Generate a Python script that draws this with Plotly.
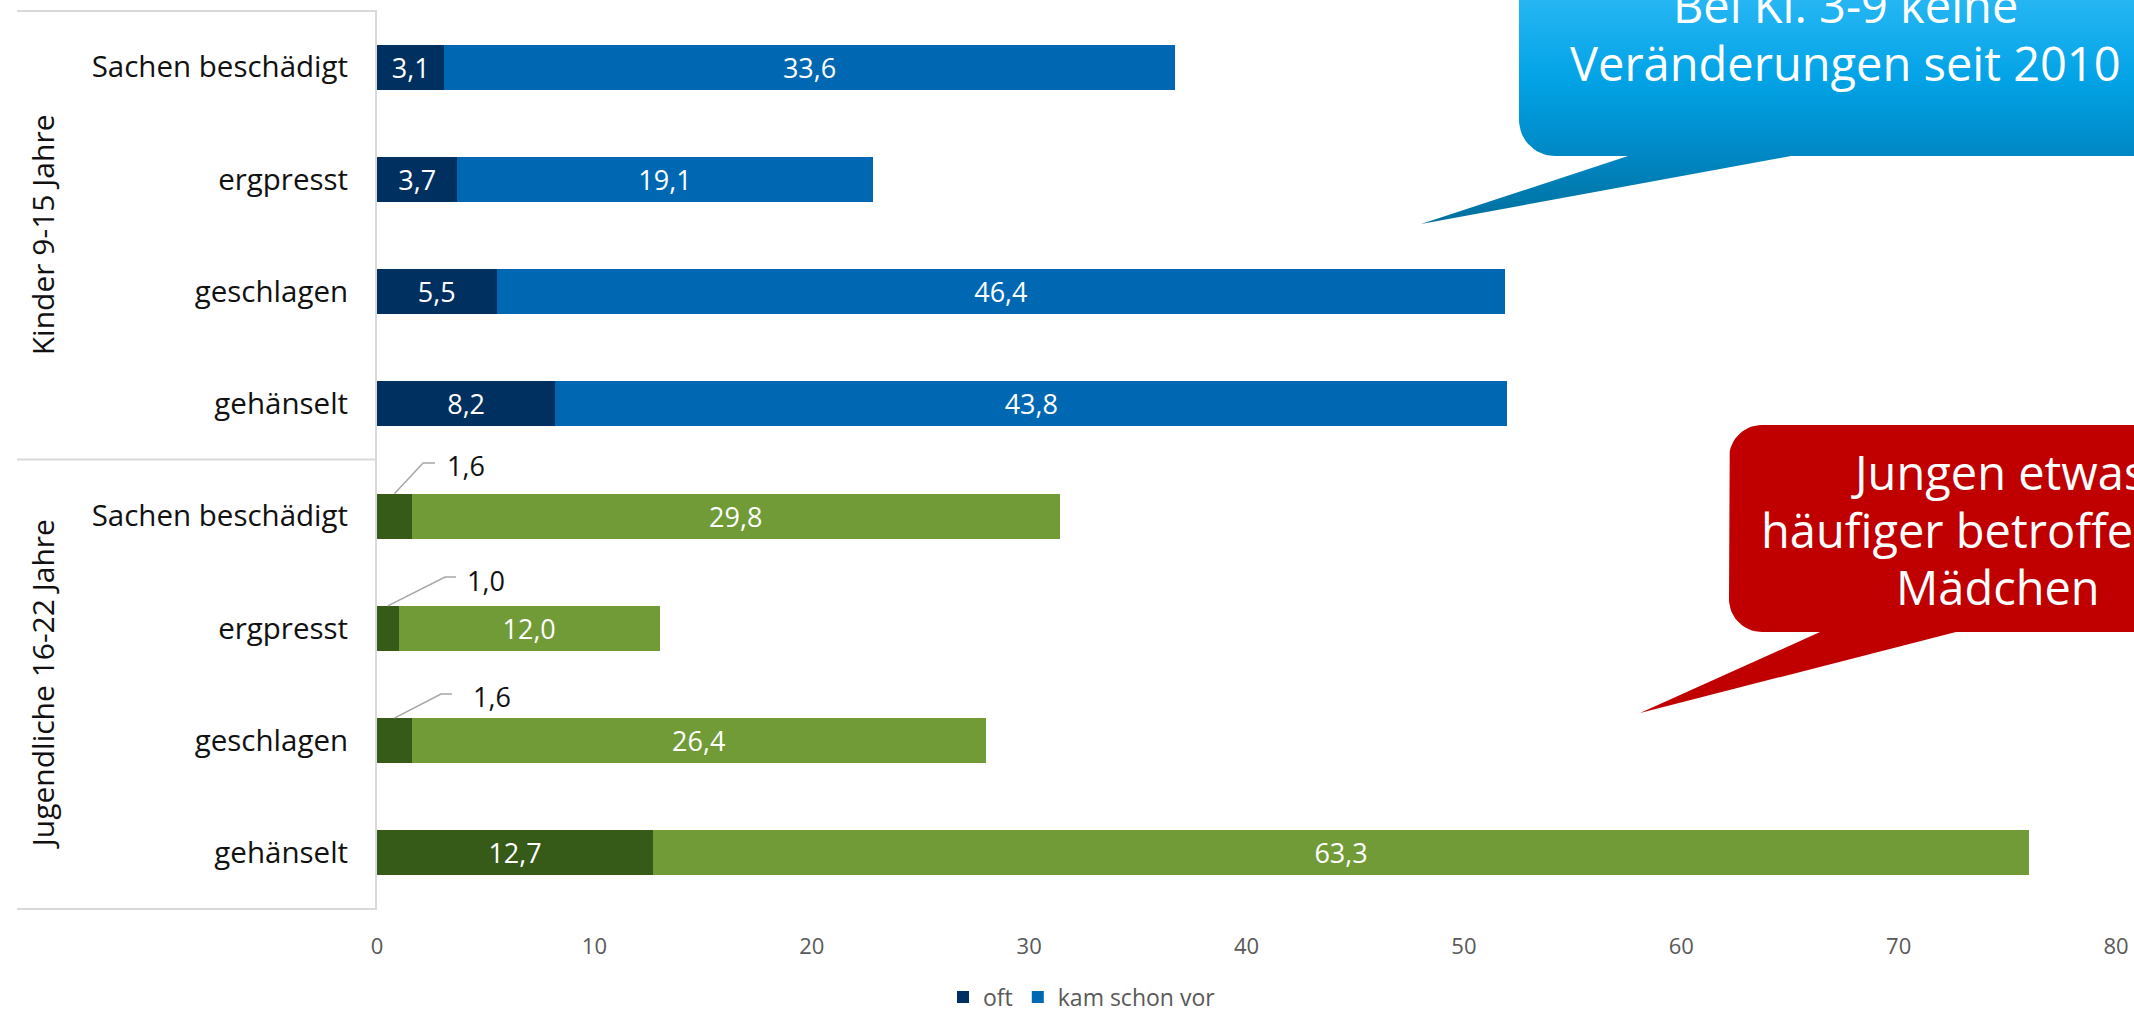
import numpy as np
import plotly.graph_objects as go

# ---- data -------------------------------------------------------------
items = ["Sachen beschädigt", "ergpresst", "geschlagen", "gehänselt"]
group_titles = ["Kinder 9-15 Jahre", "Jugendliche 16-22 Jahre"]
series_names = ["oft", "kam schon vor"]

kinder_oft = [3.1, 3.7, 5.5, 8.2]
kinder_kam = [33.6, 19.1, 46.4, 43.8]
jugend_oft = [1.6, 1.0, 1.6, 12.7]
jugend_kam = [29.8, 12.0, 26.4, 63.3]

x_ticks = [0, 10, 20, 30, 40, 50, 60, 70, 80]

callout_blue_lines = ["Bei Kl. 3-9 keine", "Veränderungen seit 2010"]
callout_red_lines = ["Jungen etwas", "häufiger betroffen als", "Mädchen"]

# ---- styling ----------------------------------------------------------
W, H = 2134, 1011
FONT = "Open Sans"
C_NAVY, C_BLUE = "#00305f", "#0068b3"
C_DGREEN, C_LGREEN = "#365a18", "#709b37"
C_RED = "#c00000"
GRID = "#d9d9d9"

# plot area in pixels (left, top, right, bottom)
PL, PT, PR, PB = 377, 11, 2116, 909


def fmt(v):
    return f"{v:.1f}".replace(".", ",")


def px_x(px):
    return px / W


def px_y(py):
    return 1 - py / H


n = len(items)
pos_kinder = list(range(n))
pos_jugend = list(range(n, 2 * n))
tick_pos = pos_kinder + pos_jugend
tick_text = items + items

SMALL = 5.0  # segments narrower than this get an outside label

fig = go.Figure()

bar_common = dict(
    orientation="h",
    width=0.4,
    textposition="inside",
    insidetextanchor="middle",
    textangle=0,
    constraintext="none",
    insidetextfont=dict(family=FONT, size=27, color="white"),
    hoverinfo="skip",
    marker_line_width=0,
)

fig.add_trace(go.Bar(x=kinder_oft, y=pos_kinder, name=series_names[0],
                     marker_color=C_NAVY, text=[fmt(v) for v in kinder_oft],
                     legendgroup="oft", **bar_common))
fig.add_trace(go.Bar(x=jugend_oft, y=pos_jugend, name=series_names[0],
                     marker_color=C_DGREEN, showlegend=False,
                     text=[fmt(v) if v >= SMALL else "" for v in jugend_oft],
                     legendgroup="oft", **bar_common))
fig.add_trace(go.Bar(x=kinder_kam, y=pos_kinder, name=series_names[1],
                     marker_color=C_BLUE, text=[fmt(v) for v in kinder_kam],
                     legendgroup="kam", base=kinder_oft, **bar_common))
fig.add_trace(go.Bar(x=jugend_kam, y=pos_jugend, name=series_names[1],
                     marker_color=C_LGREEN, showlegend=False,
                     text=[fmt(v) for v in jugend_kam],
                     legendgroup="kam", base=jugend_oft, **bar_common))

# ---- callout bubbles, drawn on a full-figure pixel axis ---------------
def arc(cx, cy, r, a0, a1, k=16):
    t = np.radians(np.linspace(a0, a1, k))
    return list(cx + r * np.cos(t)), list(cy + r * np.sin(t))


def bubble(left, top, right, bottom, r, base_l, base_r, tip, round_top):
    xs, ys = [], []
    if round_top:
        xs += [left + r, right]
        ys += [top, top]
    else:
        xs += [left, right]
        ys += [top, top]
    xs += [right, base_r, tip[0], base_l, left + r]
    ys += [bottom, bottom, tip[1], bottom, bottom]
    ax, ay = arc(left + r, bottom - r, r, 90, 180)
    xs += ax
    ys += ay
    if round_top:
        ax, ay = arc(left + r, top + r, r, 180, 270)
        xs += ax
        ys += ay
    else:
        xs += [left]
        ys += [top]
    xs.append(xs[0])
    ys.append(ys[0])
    return xs, [H - y for y in ys]


bx, by = bubble(1519, -60, W + 60, 156, 36, 1628, 1791, (1421, 224), False)
fig.add_trace(go.Scatter(
    x=bx, y=by, xaxis="x2", yaxis="y2", mode="lines", fill="toself",
    line=dict(width=0, color="rgba(0,0,0,0)"),
    fillgradient=dict(
        type="vertical", start=H - 224, stop=H + 40,
        colorscale=[[0, "#006f9c"], [0.28, "#0089c7"], [0.55, "#02a3e6"],
                    [0.85, "#26b6f3"], [1, "#30bbf6"]],
    ),
    hoverinfo="skip", showlegend=False,
))

rx, ry = bubble(1729, 425, W + 60, 632, 33, 1820, 1956, (1640, 713), True)
fig.add_trace(go.Scatter(
    x=rx, y=ry, xaxis="x2", yaxis="y2", mode="lines", fill="toself",
    fillcolor=C_RED, line=dict(width=0, color=C_RED),
    hoverinfo="skip", showlegend=False,
))

annotations = []
for txt, base in zip(callout_blue_lines, [21, 79]):
    annotations.append(dict(
        text=txt, x=1845, y=H - (base - 16.5), xref="x2", yref="y2",
        showarrow=False, xanchor="center", yanchor="middle",
        font=dict(family=FONT, size=47, color="white"),
    ))
for txt, base in zip(callout_red_lines, [488, 546, 603]):
    annotations.append(dict(
        text=txt, x=1998, y=H - (base - 16.5), xref="x2", yref="y2",
        showarrow=False, xanchor="center", yanchor="middle",
        font=dict(family=FONT, size=47, color="white"),
    ))

# ---- outside labels with leader lines for the tiny segments -----------
# (elbow x, elbow y-offset, line end x, label x, label y-offset) in data units
leader_layout = {
    4: (2.12, -0.473, 2.67, 3.13, -0.455),
    5: (3.13, -0.458, 3.63, 4.05, -0.431),
    6: (2.94, -0.415, 3.45, 4.32, -0.389),
}
shapes = []
for k, v in enumerate(jugend_oft):
    if v >= SMALL:
        continue
    yi = pos_jugend[k]
    ex, edy, lx, tx, tdy = leader_layout[yi]
    y0 = yi - 0.2
    shapes.append(dict(
        type="path", xref="x", yref="y",
        path=f"M {v / 2},{y0} L {ex},{yi + edy} L {lx},{yi + edy}",
        line=dict(color="#a6a6a6", width=1.5),
    ))
    annotations.append(dict(
        text=fmt(v), x=tx, y=yi + tdy, xref="x", yref="y",
        showarrow=False, xanchor="left", yanchor="middle",
        font=dict(family=FONT, size=27, color="#111111"),
    ))

# ---- group box on the left --------------------------------------------
for py in (PT, 459.5, PB):
    shapes.append(dict(
        type="line", xref="paper", yref="paper",
        x0=px_x(17), x1=px_x(PL), y0=px_y(py), y1=px_y(py),
        line=dict(color=GRID, width=2),
    ))

for title, (ya, yb) in zip(group_titles, [(PT, 459.5), (459.5, PB)]):
    annotations.append(dict(
        text=title, x=px_x(42), y=px_y((ya + yb) / 2),
        xref="paper", yref="paper", showarrow=False, textangle=-90,
        xanchor="center", yanchor="middle",
        font=dict(family=FONT, size=30, color="#111111"),
    ))

fig.update_layout(
    width=W, height=H,
    margin=dict(l=0, r=0, t=0, b=0, autoexpand=False),
    paper_bgcolor="white", plot_bgcolor="rgba(0,0,0,0)",
    barmode="stack", bargap=0.6,
    font=dict(family=FONT),
    xaxis=dict(
        domain=[px_x(PL), px_x(PR)], range=[0, 80], automargin=False,
        tickvals=x_ticks, ticktext=[str(t) for t in x_ticks],
        showgrid=False, zeroline=False, showline=False,
        ticks="outside", ticklen=18, tickcolor="rgba(0,0,0,0)",
        tickfont=dict(family=FONT, size=22, color="#595959"),
        fixedrange=True,
    ),
    yaxis=dict(
        domain=[px_y(PB), px_y(PT)], range=[2 * n - 0.5, -0.5],
        automargin=False,
        tickvals=tick_pos, ticktext=tick_text,
        showgrid=False, zeroline=False,
        showline=True, linecolor=GRID, linewidth=2,
        ticks="outside", ticklen=21, tickcolor="rgba(0,0,0,0)",
        tickfont=dict(family=FONT, size=29.5, color="#111111"),
        fixedrange=True,
    ),
    xaxis2=dict(domain=[0, 1], range=[0, W], anchor="y2", visible=False,
                automargin=False, fixedrange=True),
    yaxis2=dict(domain=[0, 1], range=[0, H], anchor="x2", visible=False,
                automargin=False, fixedrange=True),
    legend=dict(
        orientation="h", x=px_x(1082), y=px_y(997),
        xanchor="center", yanchor="middle",
        font=dict(family=FONT, size=23, color="#595959"),
        bgcolor="rgba(0,0,0,0)", traceorder="normal",
    ),
    shapes=shapes,
    annotations=annotations,
    showlegend=True,
)

fig.write_html("out.html")
